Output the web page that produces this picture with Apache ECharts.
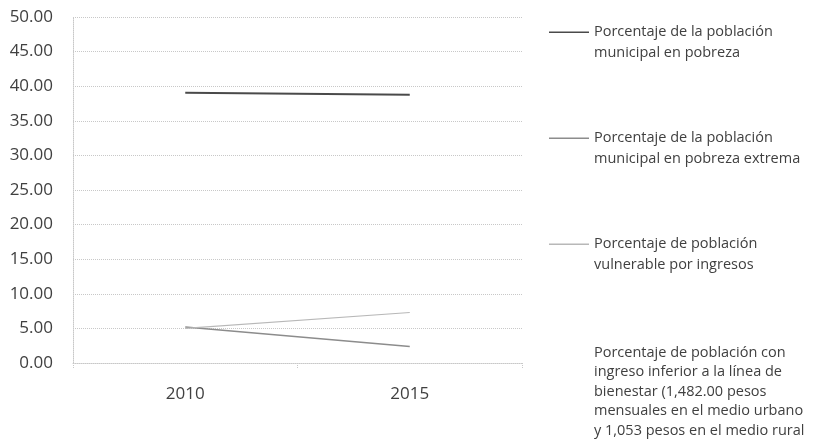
<!DOCTYPE html>
<html>
<head>
<meta charset="utf-8">
<script src="https://cdn.jsdelivr.net/npm/echarts@6/dist/echarts.min.js"></script>
<style>
    html, body {margin: 0; padding: 0; background: #fff;}
    #chart {width: 821px; height: 445px;}
</style>
</head>
<body>
<div id="chart"></div>
<script>
    const years = ['2010', '2015']
    const seriesNames = [
        'Porcentaje de la población\nmunicipal en pobreza',
        'Porcentaje de la población\nmunicipal en pobreza extrema',
        'Porcentaje de población\nvulnerable por ingresos',
        'Porcentaje de población con\ningreso inferior a la línea de\nbienestar (1,482.00 pesos\nmensuales en el medio urbano\ny 1,053 pesos en el medio rural'
    ]
    const pobreza = [39.05, 38.75]
    const pobrezaExtrema = [5.2, 2.4]
    const vulnerable = [5.0, 7.3]
    const bajoBienestar = []
    const seriesValues = [pobreza, pobrezaExtrema, vulnerable, bajoBienestar]
    const lineColors = ['#4a4a4a', '#8c8c8c', '#b8b8b8', '#ffffff']
    const lineWidths = [2, 1.5, 1.2, 1]

    const font = 'Open Sans'
    const chart = echarts.init(document.getElementById('chart'))

    // legend icon: a short line sitting on the first text line
    const lineIcon = 'path://M0,0H40V1.6H0Z M0,20.99H0.01V21H0Z'

    // one legend per item so each block sits where the reference has it
    const legendTops = [21, 127, 233, 343]
    const legendLineHeights = [21, 21, 21, 19.5]
    const legends = seriesNames.map((name, i) => ({
        data: [name],
        orient: 'vertical',
        left: 549,
        top: legendTops[i],
        padding: 0,
        itemWidth: 40,
        itemHeight: 21,
        itemGap: 0,
        icon: lineIcon,
        selectedMode: false,
        textStyle: {
            fontFamily: font,
            fontSize: 14.5,
            lineHeight: legendLineHeights[i],
            color: '#404040'
        }
    }))

    chart.setOption({
        animation: false,
        legend: legends,
        grid: {left: 73, right: 299, top: 17, bottom: 82},
        xAxis: {
            type: 'category',
            data: years,
            boundaryGap: true,
            axisLine: {lineStyle: {color: '#c8c8c8', type: 'dotted'}},
            axisTick: {show: true, length: 5, lineStyle: {color: '#c8c8c8', type: 'dotted'}},
            axisLabel: {fontFamily: font, fontSize: 17, color: '#404040', margin: 23}
        },
        yAxis: {
            type: 'value',
            min: 0,
            max: 50,
            interval: 5,
            axisLine: {show: true, lineStyle: {color: '#c8c8c8', type: 'dotted'}},
            axisTick: {show: false},
            splitLine: {lineStyle: {color: '#c8c8c8', type: 'dotted'}},
            axisLabel: {
                fontFamily: font,
                fontSize: 17,
                color: '#404040',
                margin: 20,
                formatter: v => v.toFixed(2)
            }
        },
        series: seriesNames.map((name, i) => ({
            name: name,
            type: 'line',
            data: seriesValues[i],
            symbol: 'none',
            color: lineColors[i],
            lineStyle: {color: lineColors[i], width: lineWidths[i]}
        }))
    })
</script>
</body>
</html>
